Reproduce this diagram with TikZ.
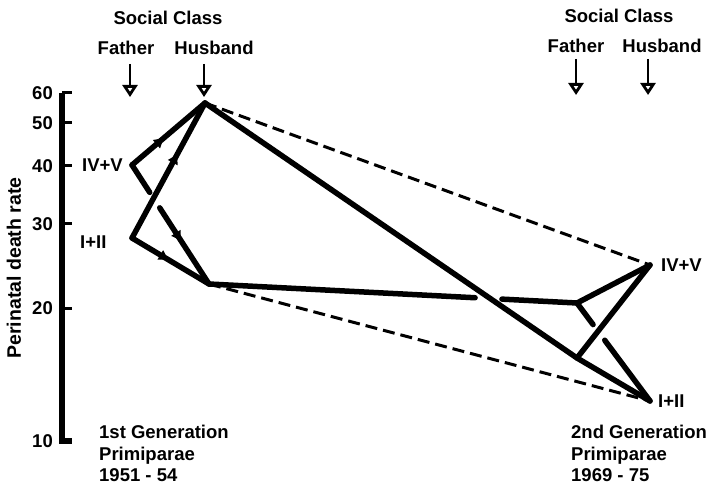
\documentclass[tikz,border=0pt]{standalone}
\usepackage{fontspec}
\setmainfont{Liberation Sans}
\usetikzlibrary{positioning,calc,arrows.meta,decorations.markings}
\tikzstyle{Texto}=[font=\fontsize{18.5}{21.5}\selectfont\bfseries, inner sep=0pt]
\tikzstyle{Eje}=[line width=6pt]
\tikzstyle{Marca}=[line width=3pt]
\tikzstyle{Tramo}=[line width=5.5pt, line cap=round, line join=round]
\tikzstyle{Enlace}=[line width=3pt, dash pattern=on 12pt off 6pt]
\tikzstyle{Indicador}=[-{Triangle[open, length=12pt, width=15pt]}, line width=2.8pt]
\tikzset{Sentido/.style={Tramo, postaction={decorate}, decoration={markings, mark=at position #1 with {\arrow{Latex[length=11pt, width=12pt]}}}}}

\begin{document}
\begin{tikzpicture}[x=1pt, y=-1pt]
			\useasboundingbox (0,0) rectangle (709,486);

			%Eje
			\node[Texto, anchor=east]	(v60)	at (53,93)	{60};
			\node[Texto, anchor=east]	(v50)	at (53,123)	{50};
			\node[Texto, anchor=east]	(v40)	at (53,166)	{40};
			\node[Texto, anchor=east]	(v30)	at (53,224)	{30};
			\node[Texto, anchor=east]	(v20)	at (53,308)	{20};
			\node[Texto, anchor=east]	(v10)	at (53,441)	{10};
			\node[Texto, rotate=90, font=\fontsize{19.5}{22}\selectfont\bfseries]	(tasa)	at (14,268)	{Perinatal death rate};

			\draw[Eje] (62,93) -- (62,441) -- (72,441);
			\draw[Marca] (62,93) -- (72,93);
			\draw[Marca] (62,123) -- (72,123);
			\draw[Marca] (62,166) -- (72,166);
			\draw[Marca] (62,224) -- (72,224);
			\draw[Marca] (62,308) -- (72,308);

			%Puntos
			\coordinate (padre1a)	at (132,165);
			\coordinate (padre1b)	at (132,238);
			\coordinate (marido1a)	at (205,103);
			\coordinate (marido1b)	at (209,284);
			\coordinate (padre2a)	at (577,303);
			\coordinate (padre2b)	at (577,358);
			\coordinate (marido2a)	at (650,265);
			\coordinate (marido2b)	at (650,401);

			%Nodos
			\node[Texto]	(clase1)		at (168,18)		{Social Class};
			\node[Texto]	(padre1)		at (126,48)		{Father};
			\node[Texto]	(marido1)	at (214,48)		{Husband};
			\node[Texto]	(clase2)		at (619,16)		{Social Class};
			\node[Texto]	(padre2)		at (576,46)		{Father};
			\node[Texto]	(marido2)	at (662,46)		{Husband};

			\coordinate (fp1) at (130,97);
			\coordinate (fm1) at (204,97);
			\coordinate (fp2) at (576,95);
			\coordinate (fm2) at (648,95);

			\node[Texto]	(iv1)	[left=9pt of padre1a]		{IV+V};
			\node[Texto, anchor=west]	(i1)	at (80,242)	{I+II};
			\node[Texto]	(iv2)	[right=11pt of marido2a]	{IV+V};
			\node[Texto]	(i2)	[right=8pt of marido2b]	{I+II};

			\node[Texto, anchor=north west, align=left]	(gen1)	at (99,425)	{1st Generation\\Primiparae\\1951 - 54};
			\node[Texto, anchor=north west, align=left]	(gen2)	at (571,425)	{2nd Generation\\Primiparae\\1969 - 75};

			%Flechas
			\draw[Indicador] ([yshift=-9pt]padre1.south -| fp1) -- (fp1);
			\draw[Indicador] ([yshift=-9pt]marido1.south -| fm1) -- (fm1);
			\draw[Indicador] ([yshift=-6pt]padre2.south -| fp2) -- (fp2);
			\draw[Indicador] ([yshift=-6pt]marido2.south -| fm2) -- (fm2);

			%Lineas
			\draw[Enlace] (marido1a) -- (marido2a);
			\draw[Enlace] (marido1b) -- (marido2b);

			\draw[Sentido=0.45] (padre1a) -- (marido1a);
			\draw[Sentido=0.63] (padre1b) -- (marido1a);
			\draw[Tramo] (padre1a) -- ($(padre1a)!0.23!(marido1b)$);
			\draw[Sentido=0.45] ($(padre1a)!0.36!(marido1b)$) -- (marido1b);
			\draw[Sentido=0.49] (padre1b) -- (marido1b);

			\draw[Tramo] (marido1a) -- (padre2b) -- (marido2b);
			\draw[Tramo] (marido1b) -- ($(marido1b)!0.723!(padre2a)$);
			\draw[Tramo] ($(marido1b)!0.796!(padre2a)$) -- (padre2a);

			\draw[Tramo] (padre2a) -- (marido2a);
			\draw[Tramo] (padre2a) -- ($(padre2a)!0.22!(marido2b)$);
			\draw[Tramo] ($(padre2a)!0.38!(marido2b)$) -- (marido2b);
			\draw[Tramo] (padre2b) -- (marido2a);

		\end{tikzpicture}
\end{document}
